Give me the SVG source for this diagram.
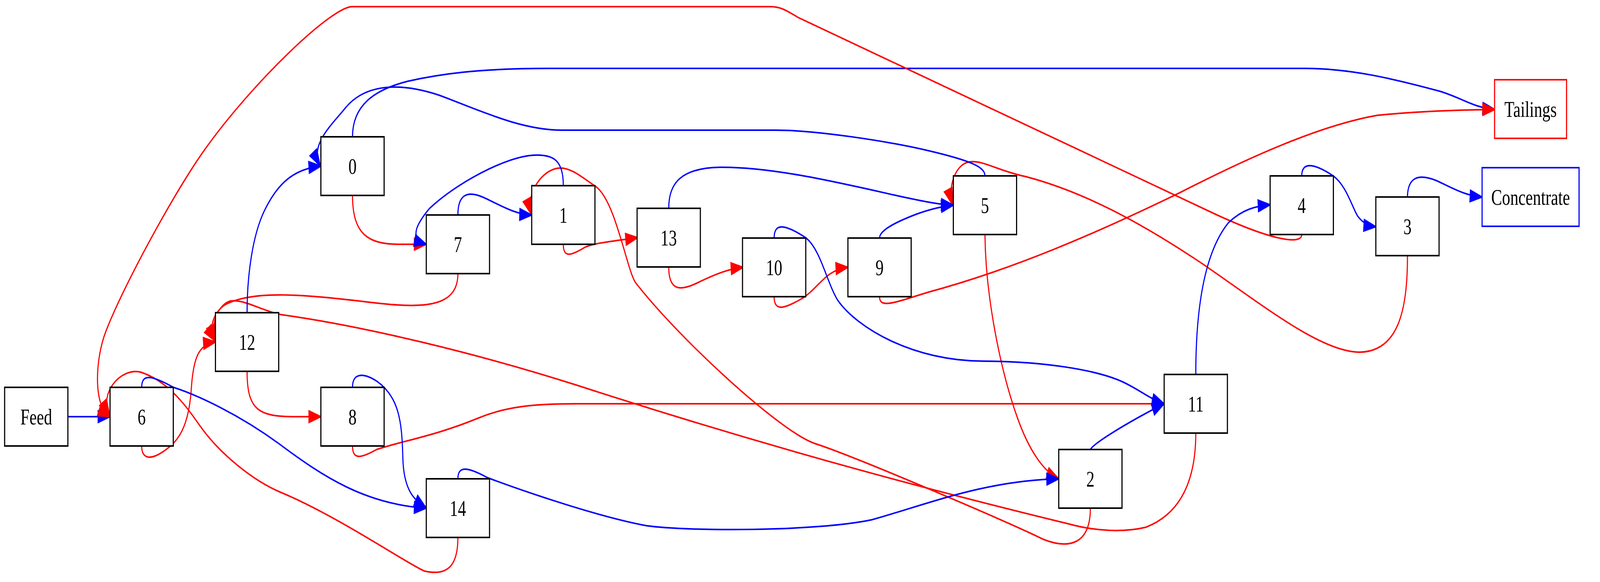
<svg xmlns="http://www.w3.org/2000/svg" width="5692" height="1489" viewBox="0 0 5692 1489" preserveAspectRatio="none">
<style>
svg{width:100vw;height:100vh}
.n rect{fill:#fff;stroke:#000;stroke-width:4}
.n text{font-family:"Liberation Serif","Times New Roman",serif;font-size:58px;text-anchor:middle;fill:#000}
.e path{fill:none;stroke-width:4}
.e .r{stroke:#f00;marker-end:url(#ar)}
.e .b{stroke:#00f;marker-end:url(#ab)}
</style>
<defs>
<marker id="ar" viewBox="-5 -20 56 40" markerWidth="56" markerHeight="40" refX="41.7" refY="0" orient="auto" markerUnits="userSpaceOnUse"><path d="M0,-14.6 L41.7,0 L0,14.6 Z" fill="#f00" stroke="#f00" stroke-width="4"/></marker>
<marker id="ab" viewBox="-5 -20 56 40" markerWidth="56" markerHeight="40" refX="41.7" refY="0" orient="auto" markerUnits="userSpaceOnUse"><path d="M0,-14.6 L41.7,0 L0,14.6 Z" fill="#00f" stroke="#00f" stroke-width="4"/></marker>
</defs>
<rect x="0" y="0" width="5692" height="1489" fill="#fff"/>
<g id="edges" class="e">
<path id="e-Feed-6" class="b" d="M242,1066 L391,1066"/>
<path id="e-0-Tailings" class="b" d="M1254,350 C1254,270 1330,230 1450,208 C1560,190 1700,175 1950,175 L4640,175 C4800,175 4950,200 5120,233 C5200,250 5240,275 5317,280"/>
<path id="e-6-12" class="r" d="M504,1141 C504,1180 545,1178 605,1142 C655,1112 675,1060 681,990 C688,920 705,880 766,875"/>
<path id="e-4-6" class="r" d="M4631,600 C4631,628 4520,615 4300,540 L2840,45 C2800,28 2780,17 2740,17 L1253,17 C1180,17 900,210 730,381 C620,492 440,730 377,847 C337,921 332,1041 391,1066"/>
<path id="e-14-6" class="r" d="M1629,1375 C1629,1440 1600,1476 1510,1461 C1450,1443 1200,1320 1000,1260 C900,1230 780,1160 710,1088 C665,1042 600,975 500,952 C430,940 350,1005 390,1064"/>
<path id="e-12-8" class="r" d="M879,950 C879,1050 920,1066 1050,1066 L1141,1066"/>
<path id="e-0-7" class="r" d="M1254,500 C1254,600 1310,625 1420,625 L1516,625"/>
<path id="e-1-13" class="r" d="M2004,625 C2004,660 2030,655 2080,633 C2110,622 2180,617 2268,608"/>
<path id="e-2-1" class="r" d="M3879,1300 C3879,1395 3800,1405 3712,1380 C3600,1340 3050,1170 2900,1135 C2780,1107 2420,870 2262,724 C2230,694 2190,510 2117,476 C2070,453 2030,428 1990,430 C1930,432 1868,495 1891,549"/>
<path id="e-13-10" class="r" d="M2379,683 C2379,745 2420,745 2480,724 C2540,703 2590,688 2643,684"/>
<path id="e-10-9" class="r" d="M2754,759 C2754,798 2790,790 2850,765 C2910,740 2935,690 3016,684"/>
<path id="e-9-Tailings" class="r" d="M3129,759 C3129,790 3180,775 3300,748 C3600,690 3900,597 4200,492 C4450,400 4700,320 4900,295 C5050,284 5200,281 5317,280"/>
<path id="e-5-2" class="r" d="M3504,600 C3506,760 3560,950 3620,1070 C3660,1150 3710,1205 3766,1225"/>
<path id="e-8-11" class="r" d="M1254,1141 C1254,1180 1290,1170 1340,1150 C1420,1130 1550,1115 1700,1070 C1800,1040 1900,1033 2050,1033 L4141,1033"/>
<path id="e-7-12" class="r" d="M1629,700 C1629,790 1500,790 1300,772 C1100,755 900,740 800,780 C760,800 738,840 766,873"/>
<path id="e-11-12" class="r" d="M4254,1108 C4254,1250 4180,1320 4076,1349 C4000,1362 3900,1360 3800,1340 C3400,1270 2800,1160 2050,985 C1700,905 1300,835 1000,805 C930,795 870,765 820,770 C780,778 745,825 766,873"/>
<path id="e-3-5" class="r" d="M5007,654 C5008,800 4970,900 4836,901 C4700,900 4500,785 4280,676 C4050,565 3850,490 3650,452 C3550,437 3500,410 3450,414 C3400,418 3370,478 3389,524"/>
<path id="e-6-14" class="b" d="M504,991 C504,955 540,960 617,991 C700,1010 850,1060 994,1136 C1150,1220 1300,1290 1516,1300"/>
<path id="e-8-14" class="b" d="M1254,991 C1254,955 1290,952 1340,975 C1420,1015 1430,1080 1433,1170 C1436,1260 1478,1280 1516,1300"/>
<path id="e-12-0" class="b" d="M879,800 C879,700 900,600 940,540 C990,465 1050,432 1141,425"/>
<path id="e-5-0" class="b" d="M3504,450 C3504,428 3460,412 3300,385 C3150,360 2900,333 2760,333 L2000,333 C1850,333 1700,280 1560,243 C1420,210 1300,215 1230,275 C1180,320 1100,370 1139,424"/>
<path id="e-7-1" class="b" d="M1629,550 C1629,495 1665,488 1720,505 C1780,525 1830,548 1891,550"/>
<path id="e-1-7" class="b" d="M2004,475 C2004,410 1970,395 1900,397 C1800,400 1620,470 1527,534 C1480,575 1455,610 1516,625"/>
<path id="e-13-5" class="b" d="M2379,533 C2379,470 2420,430 2560,428 C2750,426 3000,470 3200,502 C3290,516 3340,523 3391,525"/>
<path id="e-10-11" class="b" d="M2754,609 C2754,570 2790,572 2868,609 C2920,640 2940,720 2980,768 C3050,840 3250,924 3500,924 C3700,924 3900,945 3997,978 C4060,1000 4090,1020 4141,1033"/>
<path id="e-9-5" class="b" d="M3129,609 C3129,590 3180,570 3260,548 C3310,535 3350,528 3391,525"/>
<path id="e-14-2" class="b" d="M1629,1225 C1629,1190 1665,1195 1734,1222 C1800,1240 2100,1318 2300,1345 C2450,1360 2900,1360 3100,1330 C3300,1290 3500,1230 3766,1225"/>
<path id="e-2-11" class="b" d="M3879,1150 C3890,1135 4000,1085 4141,1033"/>
<path id="e-11-4" class="b" d="M4254,958 C4254,800 4280,650 4370,570 C4420,535 4470,527 4518,524"/>
<path id="e-4-3" class="b" d="M4631,450 C4631,415 4670,415 4743,450 C4790,475 4810,530 4830,553 C4850,572 4870,578 4894,580"/>
<path id="e-3-Concentrate" class="b" d="M5007,504 C5008,450 5050,445 5110,462 C5170,482 5210,500 5272,504"/>
</g>
<g id="node-Feed" class="n"><rect x="16.5" y="991" width="225" height="150"/><text x="129" y="1086">Feed</text></g>
<g id="node-6" class="n"><rect x="391.5" y="991" width="225" height="150"/><text x="504" y="1086">6</text></g>
<g id="node-12" class="n"><rect x="766.5" y="800" width="225" height="150"/><text x="879" y="895">12</text></g>
<g id="node-0" class="n"><rect x="1141.5" y="350" width="225" height="150"/><text x="1254" y="445">0</text></g>
<g id="node-8" class="n"><rect x="1141.5" y="991" width="225" height="150"/><text x="1254" y="1086">8</text></g>
<g id="node-7" class="n"><rect x="1516.5" y="550" width="225" height="150"/><text x="1629" y="645">7</text></g>
<g id="node-14" class="n"><rect x="1516.5" y="1225" width="225" height="150"/><text x="1629" y="1320">14</text></g>
<g id="node-1" class="n"><rect x="1891.5" y="475" width="225" height="150"/><text x="2004" y="570">1</text></g>
<g id="node-13" class="n"><rect x="2266.5" y="533" width="225" height="150"/><text x="2379" y="628">13</text></g>
<g id="node-10" class="n"><rect x="2641.5" y="609" width="225" height="150"/><text x="2754" y="704">10</text></g>
<g id="node-9" class="n"><rect x="3016.5" y="609" width="225" height="150"/><text x="3129" y="704">9</text></g>
<g id="node-5" class="n"><rect x="3391.5" y="450" width="225" height="150"/><text x="3504" y="545">5</text></g>
<g id="node-2" class="n"><rect x="3766.5" y="1150" width="225" height="150"/><text x="3879" y="1245">2</text></g>
<g id="node-11" class="n"><rect x="4141.5" y="958" width="225" height="150"/><text x="4254" y="1053">11</text></g>
<g id="node-4" class="n"><rect x="4518.5" y="450" width="225" height="150"/><text x="4631" y="545">4</text></g>
<g id="node-3" class="n"><rect x="4894.5" y="504" width="225" height="150"/><text x="5007" y="599">3</text></g>
<g id="node-Tailings" class="n"><rect x="5317" y="204" width="256" height="150" style="stroke:#f00"/><text x="5445" y="299">Tailings</text></g>
<g id="node-Concentrate" class="n"><rect x="5272.5" y="429" width="345" height="150" style="stroke:#00f"/><text x="5445" y="524">Concentrate</text></g>
</svg>
